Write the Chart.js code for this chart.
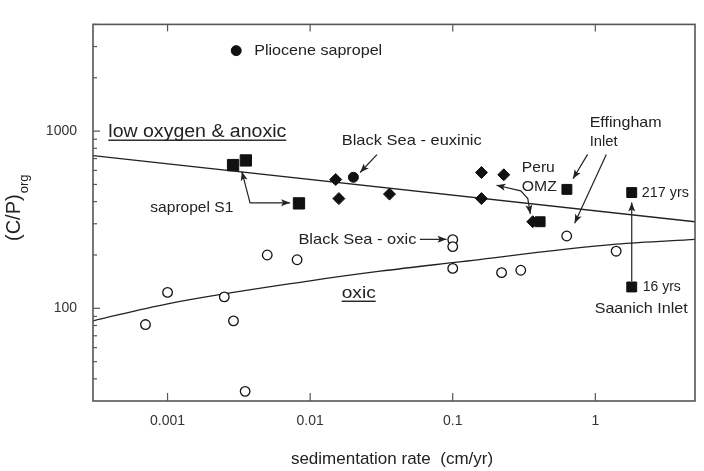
<!DOCTYPE html>
<html>
<head>
<meta charset="utf-8">
<script src="https://cdn.jsdelivr.net/npm/chart.js@4.4.1/dist/chart.umd.min.js"></script>
<style>
  html, body { margin: 0; padding: 0; background: #fff; }
  #wrap { width: 704px; height: 471px; }
</style>
</head>
<body>
<div id="wrap"><canvas id="cp" width="704" height="471"></canvas></div>
<script>
const FONT = '"Liberation Sans", Arial, Helvetica, sans-serif';

// axes
const xTicks = [0.001, 0.01, 0.1, 1];
const xTickLabels = ['0.001', '0.01', '0.1', '1'];
const yTicks = [100, 1000];
const yTickLabels = ['100', '1000'];
const yMinorTicks = [40, 50, 60, 70, 80, 90, 200, 300, 400, 500, 600, 700, 800, 900, 2000, 3000, 4000];

// oxic sediments (open circles)
const oxicRate = [0.0007, 0.001, 0.0025, 0.0029, 0.0035, 0.005, 0.0081, 0.1, 0.1, 0.1, 0.22, 0.3, 0.63, 1.4];
const oxicCP   = [81, 123, 116, 85, 34, 200, 188, 244, 223, 168, 159, 164, 256, 210];

// filled circles (Pliocene sapropel, Black Sea euxinic)
const circRate = [0.00303, 0.0201];
const circCP   = [2845, 549];

// filled diamonds
const dmdRate = [0.0151, 0.0159, 0.036, 0.159, 0.228, 0.159, 0.364];
const dmdCP   = [533, 416, 441, 584, 567, 416, 308];

// sapropel S1 squares
const s1Rate = [0.00288, 0.00354, 0.00835];
const s1CP   = [643, 683, 391];

// Peru, Effingham, Saanich squares
const sqRate = [0.41, 0.632, 1.8, 1.8];
const sqCP   = [308, 469, 450, 132];

// boundary curves
const upperRate = [0.0003, 5];
const upperCP   = [727, 308];
const lowerRate = [0.0003, 0.001, 0.01, 0.031, 0.1, 1.4, 5];
const lowerCP   = [85, 106, 143, 162, 181, 230, 245];

// annotations: text, rate, C/P, font size, width, underlined
const notes = [
  ['Pliocene sapropel', 0.00405, 2844, 15, 128],
  ['low oxygen & anoxic', 0.000384, 932, 18, 178, true],
  ['Black Sea - euxinic', 0.01665, 879, 15, 140],
  ['sapropel S1', 0.000757, 371, 15, 83],
  ['Black Sea - oxic', 0.00827, 245, 15, 118],
  ['oxic', 0.01665, 115, 16, 34, true],
  ['Peru', 0.305, 619, 15, 33],
  ['OMZ', 0.305, 485, 15, 35],
  ['Effingham', 0.912, 1109, 15, 72],
  ['Inlet', 0.912, 865, 15, 28],
  ['217 yrs', 2.12, 447, 14, 47],
  ['16 yrs', 2.154, 132, 14, 38],
  ['Saanich Inlet', 0.989, 98.8, 15, 93],
];

// arrows: path in (rate, C/P), heads at both ends?
const arrows = [
  [[[0.0294, 736], [0.0224, 584]], false],
  [[[0.00332, 591], [0.00379, 394], [0.00723, 394]], true],
  [[[0.0588, 245], [0.0905, 245]], false],
  [[[0.2026, 495], [0.300, 460], [0.336, 416], [0.350, 341]], true],
  [[[0.883, 739], [0.697, 538]], false],
  [[[1.194, 739], [0.716, 302]], false],
  [[[1.80, 142], [1.80, 396]], false],
];

const pts = (xs, ys) => xs.map((v, i) => ({ x: v, y: ys[i] }));

const decor = {
  id: 'decor',
  afterDraw(chart) {
    const { ctx, chartArea: a, scales: { x, y } } = chart;
    const line = (x1, y1, x2, y2) => { ctx.beginPath(); ctx.moveTo(x1, y1); ctx.lineTo(x2, y2); ctx.stroke(); };
    ctx.save();

    // frame + inward ticks
    ctx.strokeStyle = '#555';
    ctx.lineWidth = 1.6;
    ctx.strokeRect(a.left, a.top, a.right - a.left, a.bottom - a.top);
    ctx.lineWidth = 1.2;
    xTicks.forEach(v => {
      const px = x.getPixelForValue(v);
      line(px, a.bottom, px, a.bottom - 8);
      line(px, a.top, px, a.top + 7);
    });
    yTicks.forEach(v => { const py = y.getPixelForValue(v); line(a.left, py, a.left + 7, py); });
    yMinorTicks.forEach(v => { const py = y.getPixelForValue(v); line(a.left, py, a.left + 4, py); });

    // arrows
    ctx.strokeStyle = '#222';
    ctx.fillStyle = '#222';
    ctx.lineWidth = 1.2;
    const head = (p, q) => {
      const ang = Math.atan2(q[1] - p[1], q[0] - p[0]);
      ctx.save();
      ctx.translate(q[0], q[1]);
      ctx.rotate(ang);
      ctx.beginPath();
      ctx.moveTo(0, 0); ctx.lineTo(-9, -3.5); ctx.lineTo(-7, 0); ctx.lineTo(-9, 3.5);
      ctx.closePath(); ctx.fill();
      ctx.restore();
    };
    arrows.forEach(([path, both]) => {
      const p = path.map(([r, c]) => [x.getPixelForValue(r), y.getPixelForValue(c)]);
      ctx.beginPath();
      p.forEach((q, i) => i ? ctx.lineTo(q[0], q[1]) : ctx.moveTo(q[0], q[1]));
      ctx.stroke();
      head(p[p.length - 2], p[p.length - 1]);
      if (both) head(p[1], p[0]);
    });

    // annotation text
    ctx.textAlign = 'left';
    notes.forEach(([t, r, c, size, w, ul]) => {
      const px = x.getPixelForValue(r), py = y.getPixelForValue(c);
      ctx.font = size + 'px ' + FONT;
      ctx.textBaseline = ul ? 'alphabetic' : 'middle';
      const m = ctx.measureText(t).width;
      ctx.save();
      ctx.translate(px, py);
      ctx.scale(w / m, 1);
      ctx.fillText(t, 0, 0);
      ctx.restore();
      if (ul) { ctx.fillRect(px, py + 3, w, 1.4); }
    });

    // axis titles
    ctx.fillStyle = '#222';
    ctx.font = '17px ' + FONT;
    ctx.textAlign = 'center';
    ctx.textBaseline = 'middle';
    ctx.fillText('sedimentation rate  (cm/yr)', (a.left + a.right) / 2 - 2, 459);

    ctx.translate(20, 241);
    ctx.rotate(-Math.PI / 2);
    ctx.textAlign = 'left';
    ctx.textBaseline = 'alphabetic';
    ctx.font = '20px ' + FONT;
    ctx.fillText('(C/P)', 0, 0);
    const wcp = ctx.measureText('(C/P)').width;
    ctx.font = '13px ' + FONT;
    ctx.fillText('org', wcp + 1, 8);
    ctx.restore();
  }
};

const tickFont = { family: FONT, size: 14 };

new Chart(document.getElementById('cp'), {
  type: 'scatter',
  data: {
    datasets: [
      { data: pts(oxicRate, oxicCP), pointStyle: 'circle', pointRadius: 4.8,
        backgroundColor: '#fff', borderColor: '#111', borderWidth: 1.3, order: 1 },
      { data: pts(circRate, circCP), pointStyle: 'circle', pointRadius: 5,
        backgroundColor: '#111', borderColor: '#111', borderWidth: 1, order: 1 },
      { data: pts(dmdRate, dmdCP), pointStyle: 'rectRot', pointRadius: 6,
        backgroundColor: '#111', borderColor: '#111', borderWidth: 1, order: 1 },
      { data: pts(s1Rate, s1CP), pointStyle: 'rect', pointRadius: 8,
        backgroundColor: '#111', borderColor: '#111', borderWidth: 1, order: 1 },
      { data: pts(sqRate, sqCP), pointStyle: 'rect', pointRadius: 7,
        backgroundColor: '#111', borderColor: '#111', borderWidth: 1, order: 1 },
      { data: pts(upperRate, upperCP), showLine: true, pointRadius: 0,
        borderColor: '#222', borderWidth: 1.3, order: 5 },
      { data: pts(lowerRate, lowerCP), showLine: true, pointRadius: 0, cubicInterpolationMode: 'monotone',
        borderColor: '#222', borderWidth: 1.3, order: 5 },
    ]
  },
  options: {
    responsive: false,
    animation: false,
    events: [],
    layout: { padding: { left: 0, top: 6, right: 8, bottom: 0 } },
    plugins: { legend: { display: false }, tooltip: { enabled: false } },
    scales: {
      x: {
        type: 'logarithmic', min: 0.0003, max: 5,
        grid: { display: false, drawTicks: false }, border: { display: false },
        afterBuildTicks: s => { s.ticks = xTicks.map(v => ({ value: v })); },
        afterFit: s => { s.height = 70; },
        ticks: { callback: (v, i) => xTickLabels[i], font: tickFont, color: '#333',
                 padding: 12, autoSkip: false, maxRotation: 0 }
      },
      y: {
        type: 'logarithmic', min: 30, max: 4000,
        grid: { display: false, drawTicks: false }, border: { display: false },
        afterBuildTicks: s => { s.ticks = yTicks.map(v => ({ value: v })); },
        afterFit: s => { s.width = 93; },
        ticks: { callback: (v, i) => yTickLabels[i], font: tickFont, color: '#333',
                 padding: 16, autoSkip: false }
      }
    }
  },
  plugins: [decor]
});
</script>
</body>
</html>
